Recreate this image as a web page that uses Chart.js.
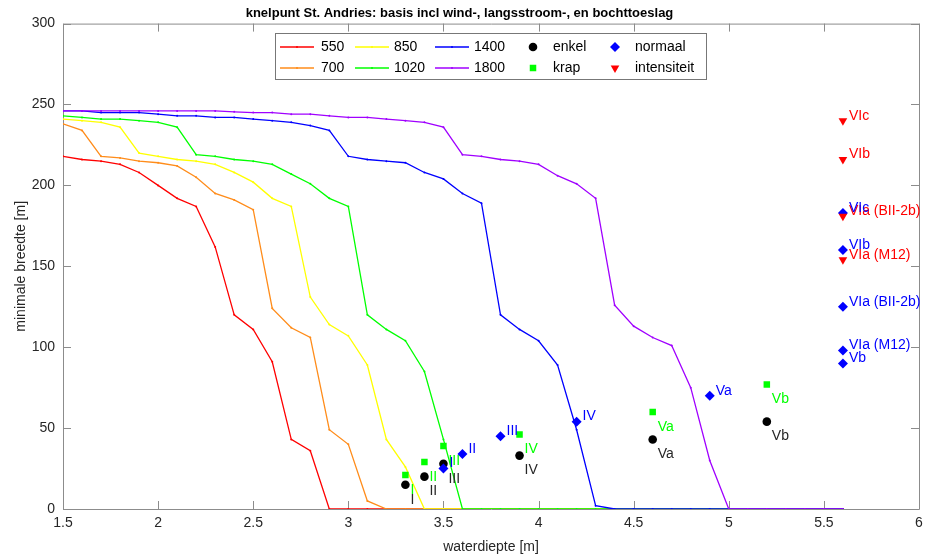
<!DOCTYPE html>
<html>
<head>
<meta charset="utf-8">
<script src="https://cdn.jsdelivr.net/npm/chart.js@4"></script>
<style>
  html, body { margin: 0; padding: 0; background: #fff; }
</style>
</head>
<body>
<canvas id="chart" width="931" height="557"></canvas>
<script>
// waterdiepte [m]
const depths = [1.5, 1.6, 1.7, 1.8, 1.9, 2.0, 2.1, 2.2, 2.3, 2.4,
                2.5, 2.6, 2.7, 2.8, 2.9, 3.0, 3.1, 3.2, 3.3, 3.4,
                3.5, 3.6, 3.7, 3.8, 3.9, 4.0, 4.1, 4.2, 4.3, 4.4,
                4.5, 4.6, 4.7, 4.8, 4.9, 5.0, 5.1, 5.2, 5.3, 5.4,
                5.5, 5.6];

// minimale breedte [m] per scheepslengte
const w550 = [218, 216, 215, 213, 208, 200, 192, 187, 162, 120,
              111, 91, 43, 36, 0, 0, 0, 0, 0, 0,
              0, 0, 0, 0, 0, 0, 0, 0, 0, 0,
              0, 0, 0, 0, 0, 0, 0, 0, 0, 0,
              0, 0];
const w700 = [238, 234, 218, 217, 215, 214, 212, 205, 195, 191,
              185, 124, 112, 106, 49, 40, 5, 0, 0, 0,
              0, 0, 0, 0, 0, 0, 0, 0, 0, 0,
              0, 0, 0, 0, 0, 0, 0, 0, 0, 0,
              0, 0];
const w850 = [241, 240, 239, 236, 220, 218, 216, 215, 213, 208,
              202, 192, 187, 131, 114, 107, 89, 43, 26, 0,
              0, 0, 0, 0, 0, 0, 0, 0, 0, 0,
              0, 0, 0, 0, 0, 0, 0, 0, 0, 0,
              0, 0];
const w1020 = [243, 242, 241, 241, 240, 239, 236, 219, 218, 216,
               215, 213, 207, 201, 192, 187, 120, 111, 104, 85,
               43, 0, 0, 0, 0, 0, 0, 0, 0, 0,
               0, 0, 0, 0, 0, 0, 0, 0, 0, 0,
               0, 0];
const w1400 = [246, 246, 245, 245, 245, 244, 243, 243, 242, 242,
               241, 240, 239, 237, 234, 218, 216, 215, 214, 208,
               204, 195, 189, 120, 111, 104, 89, 49, 2, 0,
               0, 0, 0, 0, 0, 0, 0, 0, 0, 0,
               0, 0];
const w1800 = [246, 246, 246, 246, 246, 246, 246, 246, 246, 245.5,
               245, 245, 244, 244, 243, 242, 242, 241, 240, 239,
               236, 219, 218, 216, 215, 213, 206, 201, 192, 126,
               113, 106, 101, 75, 30, 0, 0, 0, 0, 0,
               0, 0];

// referentiepunten
const enkelX = [3.3, 3.4, 3.5, 3.9, 4.6, 5.2];
const enkelY = [15, 20, 28, 33, 43, 54];
const enkelLabels = ['I', 'II', 'III', 'IV', 'Va', 'Vb'];

const krapX = [3.3, 3.4, 3.5, 3.9, 4.6, 5.2];
const krapY = [21, 29, 39, 46, 60, 77];
const krapLabels = ['I', 'II', 'III', 'IV', 'Va', 'Vb'];

const normaalX = [3.5, 3.6, 3.8, 4.2, 4.9, 5.6, 5.6, 5.6, 5.6, 5.6];
const normaalY = [25, 34, 45, 54, 70, 183, 160, 125, 98, 90];
const normaalLabels = ['I', 'II', 'III', 'IV', 'Va', 'VIc', 'VIb', 'VIa (BII-2b)', 'VIa (M12)', 'Vb'];

const intensX = [5.6, 5.6, 5.6, 5.6];
const intensY = [240, 216, 181, 154];
const intensLabels = ['VIc', 'VIb', 'VIa (BII-2b)', 'VIa (M12)'];

Chart.defaults.font.family = "'Liberation Sans', Arial, sans-serif";
Chart.defaults.color = '#262626';

const curve = (label, values, color) => ({
    type: 'line',
    label: label,
    data: depths.map((d, i) => ({x: d, y: values[i]})),
    borderColor: color,
    backgroundColor: color,
    borderWidth: 1.3,
    pointRadius: 1,
    pointBorderWidth: 0,
    fill: false,
    tension: 0
});

const markers = (label, xs, ys, names, color, style, radius, rotation, labelPos) => ({
    type: 'scatter',
    label: label,
    data: xs.map((x, i) => ({x: x, y: ys[i]})),
    pointLabels: names,
    labelPos: labelPos,
    borderColor: color,
    backgroundColor: color,
    pointStyle: style,
    pointRadius: radius,
    pointRotation: rotation,
    pointBorderWidth: 0,
    showLine: false
});

let datasets = [
    curve('550', w550, '#ff0000'),
    curve('700', w700, '#ff8c1a'),
    curve('850', w850, '#ffff00'),
    curve('1020', w1020, '#00ff00'),
    curve('1400', w1400, '#0000ff'),
    curve('1800', w1800, '#a000ff'),
    markers('enkel', enkelX, enkelY, enkelLabels, '#000000', 'circle', 4.3, 0, 'below'),
    markers('krap', krapX, krapY, krapLabels, '#00ff00', 'rect', 4.6, 0, 'below'),
    markers('normaal', normaalX, normaalY, normaalLabels, '#0000ff', 'rectRot', 5, 0, 'right'),
    markers('intensiteit', intensX, intensY, intensLabels, '#ff0000', 'triangle', 5, 180, 'right'),
];
// later series on top, like the original plot
datasets.forEach((ds, i) => { ds.order = datasets.length - i; });

// box around the plot with inward ticks on all four sides
const axesBox = {
    id: 'axesBox',
    beforeDatasetsDraw(chart) {
        const {ctx, chartArea: a, scales: {x, y}} = chart;
        ctx.save();
        ctx.strokeStyle = '#8c8c8c';
        ctx.lineWidth = 1;
        ctx.beginPath();
        ctx.rect(a.left + 0.5, a.top + 0.5, a.right - a.left, a.bottom - a.top);
        for (const t of x.ticks) {
            const px = Math.round(x.getPixelForValue(t.value)) + 0.5;
            ctx.moveTo(px, a.bottom); ctx.lineTo(px, a.bottom - 8);
            ctx.moveTo(px, a.top); ctx.lineTo(px, a.top + 8);
        }
        for (const t of y.ticks) {
            const py = Math.round(y.getPixelForValue(t.value)) + 0.5;
            ctx.moveTo(a.left, py); ctx.lineTo(a.left + 8, py);
            ctx.moveTo(a.right, py); ctx.lineTo(a.right - 8, py);
        }
        ctx.stroke();
        ctx.restore();
    }
};

// text next to the reference points
const pointText = {
    id: 'pointText',
    afterDatasetsDraw(chart) {
        const {ctx} = chart;
        ctx.save();
        ctx.font = "14px 'Liberation Sans', Arial, sans-serif";
        ctx.textAlign = 'left';
        ctx.textBaseline = 'middle';
        const drawOrder = [9, 6, 7, 8];
        for (const idx of drawOrder) {
            const ds = chart.data.datasets[idx];
            const meta = chart.getDatasetMeta(idx);
            ctx.fillStyle = ds.backgroundColor === '#000000' ? '#262626' : ds.backgroundColor;
            meta.data.forEach((pt, i) => {
                if (ds.labelPos === 'below') {
                    ctx.fillText(ds.pointLabels[i], pt.x + 5, pt.y + 15);
                } else {
                    ctx.fillText(ds.pointLabels[i], pt.x + 6, pt.y - 5);
                }
            });
        }
        ctx.restore();
    }
};

// two-row legend box inside the axes
const boxLegend = {
    id: 'boxLegend',
    afterDraw(chart) {
        const {ctx} = chart;
        const ds = chart.data.datasets;
        const rows = [47, 68];
        const cols = [
            {items: [0, 1], x: 280, text: 321, line: true},
            {items: [2, 3], x: 355, text: 394, line: true},
            {items: [4, 5], x: 435, text: 474, line: true},
            {items: [6, 7], x: 533, text: 553, line: false},
            {items: [8, 9], x: 615, text: 635, line: false}
        ];
        ctx.save();
        ctx.fillStyle = '#ffffff';
        ctx.fillRect(275.5, 33.5, 431, 46);
        ctx.strokeStyle = '#777777';
        ctx.lineWidth = 1;
        ctx.strokeRect(275.5, 33.5, 431, 46);
        ctx.font = "14px 'Liberation Sans', Arial, sans-serif";
        ctx.textBaseline = 'middle';
        ctx.textAlign = 'left';
        for (const col of cols) {
            col.items.forEach((idx, r) => {
                const d = ds[idx];
                const yy = rows[r];
                if (col.line) {
                    ctx.strokeStyle = d.borderColor;
                    ctx.lineWidth = 1.3;
                    ctx.beginPath();
                    ctx.moveTo(col.x, yy); ctx.lineTo(col.x + 34, yy);
                    ctx.stroke();
                    ctx.fillStyle = d.borderColor;
                    ctx.beginPath(); ctx.arc(col.x + 17, yy, 1, 0, Math.PI * 2); ctx.fill();
                } else {
                    ctx.fillStyle = d.backgroundColor;
                    ctx.strokeStyle = d.backgroundColor;
                    Chart.helpers.drawPoint(ctx, {
                        pointStyle: d.pointStyle, radius: d.pointRadius,
                        rotation: d.pointRotation, borderWidth: 0
                    }, col.x, yy);
                }
                ctx.fillStyle = '#000000';
                ctx.fillText(d.label, col.text, yy);
            });
        }
        ctx.restore();
    }
};

new Chart(document.getElementById('chart'), {
    type: 'line',
    data: {datasets: datasets},
    plugins: [axesBox, pointText, boxLegend],
    options: {
        responsive: false,
        animation: false,
        layout: {padding: {left: 0, right: 12, top: 0, bottom: 0}},
        plugins: {
            legend: {display: false},
            tooltip: {enabled: false},
            title: {
                display: true,
                text: 'knelpunt St. Andries: basis incl wind-, langsstroom-, en bochttoeslag',
                color: '#000000',
                font: {size: 13, weight: 'bold'},
                padding: {top: 6, bottom: 2}
            }
        },
        scales: {
            x: {
                type: 'linear',
                min: 1.5,
                max: 6,
                grid: {display: false, drawTicks: false},
                border: {display: false},
                ticks: {
                    stepSize: 0.5, padding: 6, font: {size: 14}, color: '#262626', maxRotation: 0,
                    callback: v => String(Math.round(v * 10) / 10)
                },
                title: {display: true, text: 'waterdiepte [m]', font: {size: 14}, color: '#262626', padding: {top: 0, bottom: 1}},
                afterFit: s => { s.height = 48; }
            },
            y: {
                min: 0,
                max: 300,
                grid: {display: false, drawTicks: false},
                border: {display: false},
                ticks: {stepSize: 50, padding: 8, font: {size: 14}, color: '#262626'},
                title: {display: true, text: 'minimale breedte [m]', font: {size: 14}, color: '#262626', padding: {top: 13, bottom: 0}},
                afterFit: s => { s.width = 63; }
            }
        }
    }
});
</script>
</body>
</html>
